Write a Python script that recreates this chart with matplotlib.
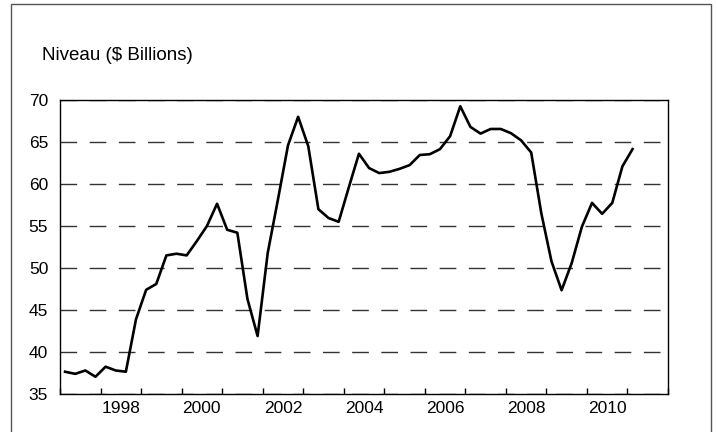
import numpy as np
import matplotlib
matplotlib.use("Agg")
import matplotlib.pyplot as plt
from matplotlib.patches import Rectangle
from matplotlib.ticker import FixedLocator, NullFormatter

plt.rcParams['font.family'] = ['Liberation Sans', 'DejaVu Sans']

# quarterly levels, 1997Q1 .. 2011Q1
start_year = 1997
levels = [37.65, 37.4, 37.8, 37.05, 38.25, 37.8, 37.65, 43.9,
          47.4, 48.1, 51.5, 51.7, 51.5, 53.2, 55.0, 57.65,
          54.55, 54.2, 46.3, 41.9, 51.8, 58.1, 64.6, 68.0,
          64.5, 57.0, 55.95, 55.5, 59.6, 63.6, 61.9, 61.3,
          61.45, 61.8, 62.25, 63.45, 63.55, 64.15, 65.7, 69.25,
          66.8, 66.0, 66.55, 66.55, 66.05, 65.2, 63.75, 56.5,
          50.8, 47.35, 50.6, 54.9, 57.75, 56.45, 57.75, 62.1,
          64.15]
year_labels = ['1998', '2000', '2002', '2004', '2006', '2008', '2010']
y_ticks = [35, 40, 45, 50, 55, 60, 65, 70]

# mid-quarter positions
t = start_year + (np.arange(len(levels)) + 0.5) / 4

fig = plt.figure(figsize=(7.17, 4.32), dpi=100)
ax = fig.add_axes([60 / 717, 1 - 394 / 432, 608 / 717, 294 / 432])

for y in y_ticks:
    ax.axhline(y, color='#333333', lw=1.0, dashes=(12, 9), zorder=1)

ax.plot(t, levels, color='black', lw=1.9, zorder=3)

ax.set_xlim(1997, 2012)
ax.set_ylim(35, 70)
ax.set_yticks(y_ticks)
ax.tick_params(axis='y', length=0, pad=8.5, labelsize=12.5)

ax.xaxis.set_major_locator(FixedLocator(np.arange(1997, 2013)))
ax.xaxis.set_major_formatter(NullFormatter())
ax.xaxis.set_minor_locator(FixedLocator([int(y) + 0.5 for y in year_labels]))
ax.set_xticklabels(year_labels, minor=True)
ax.tick_params(axis='x', which='major', direction='in', length=4, width=1)
ax.tick_params(axis='x', which='minor', length=0, pad=5, labelsize=12.5)

for s in ax.spines.values():
    s.set_linewidth(1.0)
    s.set_color('black')

fig.text(42 / 717, 1 - 56 / 432, 'Niveau ($ Billions)', fontsize=13.5,
         ha='left', va='center')

fig.patches.append(Rectangle((11 / 717, -0.05), 700 / 717, 1.05 - 3.5 / 432,
                             transform=fig.transFigure, fill=False,
                             edgecolor='#555555', lw=1.0))

fig.savefig('out.png', dpi=100)
plt.close(fig)
